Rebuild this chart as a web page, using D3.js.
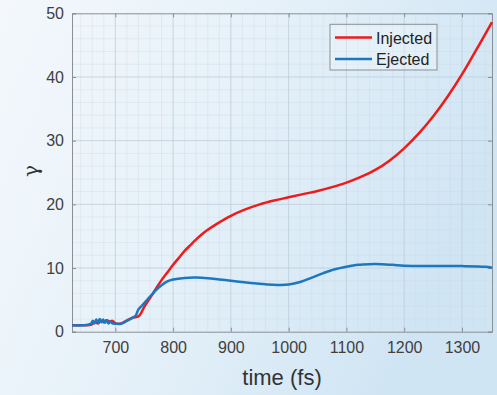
<!DOCTYPE html>
<html><head><meta charset="utf-8">
<script src="https://cdn.jsdelivr.net/npm/d3@7"></script>
<style>html,body{margin:0;padding:0;overflow:hidden;}svg{display:block;}</style>
</head><body>
<svg id="chart" width="497" height="395"></svg>
<script>
const injectedT = [625,640,655,660,665,670,675,680,685,690,695,700,705,710,715,720,730,740,745,750,760,770,780,790,800,810,820,830,840,850,860,875,900,925,950,975,1000,1025,1050,1075,1100,1125,1150,1175,1200,1225,1250,1275,1300,1325,1352];
const injectedV = [1.0,1.0,1.05,1.2,1.5,1.3,1.7,1.5,1.8,1.6,1.7,1.3,1.25,1.3,1.5,1.8,2.2,2.4,3.0,3.9,5.3,6.7,8.1,9.3,10.5,11.6,12.7,13.6,14.5,15.3,16.0,16.9,18.2,19.2,20.0,20.6,21.1,21.6,22.1,22.7,23.4,24.3,25.4,26.9,28.8,31.1,33.8,36.9,40.4,44.3,48.6];
const ejectedT = [625,650,658,661,664,667,670,673,676,679,682,685,688,691,695,700,710,720,730,735,740,745,755,765,770,780,790,800,820,840,860,880,900,920,940,960,980,1000,1020,1040,1060,1080,1100,1120,1140,1160,1180,1200,1250,1300,1340,1352];
const ejectedV = [1.0,1.05,1.3,1.7,1.3,1.9,1.4,2.0,1.5,1.9,1.4,1.8,1.3,1.6,1.3,1.25,1.25,1.7,2.2,2.5,3.5,4.0,5.0,6.0,6.5,7.3,7.9,8.2,8.45,8.5,8.4,8.2,8.0,7.8,7.6,7.45,7.35,7.4,7.8,8.5,9.2,9.8,10.2,10.5,10.6,10.6,10.5,10.35,10.3,10.3,10.2,10.05];
const xTicks = [700,800,900,1000,1100,1200,1300];
const yTicks = [0,10,20,30,40,50];
const seriesNames = ["Injected","Ejected"];
const seriesColors = ["#f01a1a","#1a78c2"];

const svg = d3.select("#chart");
const defs = svg.append("defs");
const grad = defs.append("linearGradient").attr("id","bg").attr("x1","0").attr("y1","0").attr("x2","1").attr("y2","0.35");
grad.append("stop").attr("offset","0").attr("stop-color","#f4f8fc");
grad.append("stop").attr("offset","0.5").attr("stop-color","#e6f1f9");
grad.append("stop").attr("offset","1").attr("stop-color","#d0e5f4");
svg.append("rect").attr("width",497).attr("height",395).attr("fill","url(#bg)");

const L=72, R=492, T=13.3, B=331.7;
const x = d3.scaleLinear().domain([625,1352]).range([L,R]);
const y = d3.scaleLinear().domain([0,50]).range([B,T]);

const g = svg.append("g");
const xMinor = d3.range(640,1352,20).filter(v=>v%100!==0);
const yMinor = d3.range(2,50,2).filter(v=>v%10!==0);
g.selectAll(".xm").data(xMinor).enter().append("line")
 .attr("x1",d=>x(d)).attr("x2",d=>x(d)).attr("y1",T).attr("y2",B)
 .attr("stroke","#c9d8e4").attr("stroke-width",0.6).attr("stroke-opacity",0.6);
g.selectAll(".ym").data(yMinor).enter().append("line")
 .attr("y1",d=>y(d)).attr("y2",d=>y(d)).attr("x1",L).attr("x2",R)
 .attr("stroke","#c9d8e4").attr("stroke-width",0.6).attr("stroke-opacity",0.6);
g.selectAll(".xg").data(xTicks).enter().append("line")
 .attr("x1",d=>x(d)).attr("x2",d=>x(d)).attr("y1",T).attr("y2",B)
 .attr("stroke","#bccddb").attr("stroke-width",0.8);
g.selectAll(".yg").data(yTicks.slice(1,-1)).enter().append("line")
 .attr("y1",d=>y(d)).attr("y2",d=>y(d)).attr("x1",L).attr("x2",R)
 .attr("stroke","#bccddb").attr("stroke-width",0.8);

const axCol = "#8a8f94";
const fmt = d3.format("d");
const xB = svg.append("g").attr("transform",`translate(0,${B})`).call(d3.axisBottom(x).tickValues(xTicks).tickFormat(fmt).tickSize(-4).tickPadding(10));
const xT = svg.append("g").attr("transform",`translate(0,${T})`).call(d3.axisTop(x).tickValues(xTicks).tickSize(-4).tickFormat(""));
const yL = svg.append("g").attr("transform",`translate(${L},0)`).call(d3.axisLeft(y).tickValues(yTicks).tickFormat(fmt).tickSize(-4).tickPadding(8));
const yR = svg.append("g").attr("transform",`translate(${R},0)`).call(d3.axisRight(y).tickValues(yTicks).tickSize(-4).tickFormat(""));
[xB,xT,yL,yR].forEach(a=>{
  a.select(".domain").attr("stroke",axCol).attr("stroke-width",1);
  a.selectAll(".tick line").attr("stroke",axCol);
  a.selectAll("text").attr("fill","#404040").attr("font-family","Liberation Sans, Arial, sans-serif").attr("font-size",16);
});
xB.selectAll("text").attr("dy","0.71em");

const line = d3.line().x(d=>x(d[0])).y(d=>y(d[1])).curve(d3.curveCatmullRom.alpha(0.5));
const inj = injectedT.map((t,i)=>[t,injectedV[i]]);
const ej = ejectedT.map((t,i)=>[t,ejectedV[i]]);
svg.append("path").datum(inj).attr("d",line).attr("fill","none").attr("stroke",seriesColors[0]).attr("stroke-width",2.5);
svg.append("path").datum(ej).attr("d",line).attr("fill","none").attr("stroke",seriesColors[1]).attr("stroke-width",2.5);

svg.append("text").attr("x",282).attr("y",385).attr("text-anchor","middle")
 .attr("font-family","Liberation Sans, Arial, sans-serif").attr("font-size",22).attr("fill","#333").text("time (fs)");
svg.append("text").attr("transform","translate(38,171) rotate(-90)").attr("text-anchor","middle")
 .attr("font-family","DejaVu Serif, serif").attr("font-size",20).attr("fill","#333").text("γ");

const lg = svg.append("g");
lg.append("rect").attr("x",330).attr("y",24.3).attr("width",107).attr("height",45.7)
 .attr("fill","#ffffff").attr("fill-opacity",0.25).attr("stroke","#8a8f94").attr("stroke-width",1);
seriesNames.forEach((n,i)=>{
  const yy = 37.5 + i*21.5;
  lg.append("line").attr("x1",335).attr("x2",372).attr("y1",yy).attr("y2",yy).attr("stroke",seriesColors[i]).attr("stroke-width",2.5);
  lg.append("text").attr("x",376).attr("y",yy+6).attr("font-family","Liberation Sans, Arial, sans-serif").attr("font-size",16).attr("fill","#222").text(n);
});
</script>
</body></html>
